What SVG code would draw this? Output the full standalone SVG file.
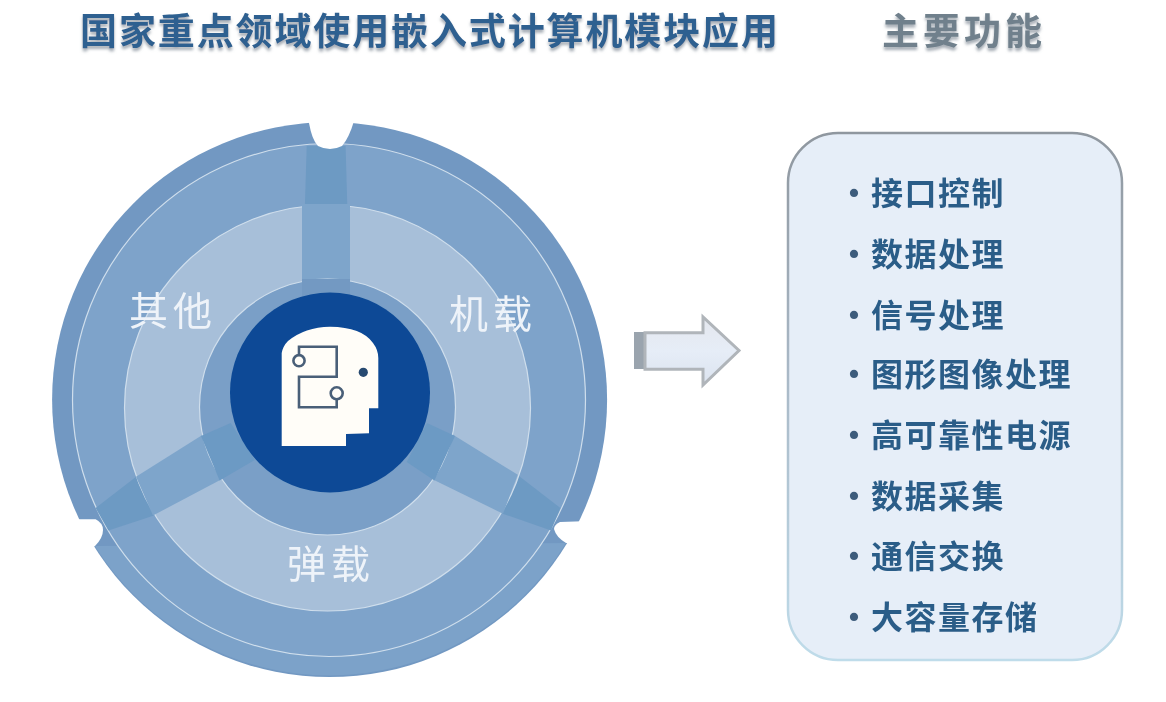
<svg xmlns="http://www.w3.org/2000/svg" width="1166" height="702" viewBox="0 0 1166 702">
<style>
text{font-family:"Noto Sans CJK SC","Noto Sans CJK TC",sans-serif}
.seg{font-size:39px;fill:#eef3f9;letter-spacing:5px;filter:url(#soft)}
.item{font-size:32px;font-weight:700;fill:#2c5d88;letter-spacing:1.5px;filter:url(#soft)}
.bul{fill:#3d5c7c}
.title{font-size:37px;font-weight:700;filter:url(#shadow)}
.thin{stroke:#cfdeec;stroke-width:1.2}
</style>
<defs>
<filter id="soft" x="-5%" y="-5%" width="110%" height="110%"><feGaussianBlur stdDeviation="0.6"/></filter>
<filter id="shadow" x="-5%" y="-20%" width="110%" height="150%">
<feGaussianBlur in="SourceAlpha" stdDeviation="1.6" result="b"/>
<feOffset in="b" dy="3" result="o"/>
<feFlood flood-color="#8f98a2" flood-opacity="0.8"/>
<feComposite in2="o" operator="in" result="s"/>
<feGaussianBlur in="SourceGraphic" stdDeviation="0.6" result="g"/>
<feMerge><feMergeNode in="s"/><feMergeNode in="g"/></feMerge>
</filter>
<linearGradient id="panelStroke" x1="0" y1="0" x2="0" y2="1">
<stop offset="0" stop-color="#8f979f"/><stop offset="0.45" stop-color="#a9b8c6"/><stop offset="1" stop-color="#bfdcea"/>
</linearGradient>
<linearGradient id="arrowFill" x1="0" y1="0" x2="0" y2="1">
<stop offset="0" stop-color="#e4e7ee"/><stop offset="0.5" stop-color="#e6edf7"/><stop offset="1" stop-color="#dbe3ef"/>
</linearGradient>
</defs>
<rect width="1166" height="702" fill="#ffffff"/>

<g id="title-left"><text class="title" x="80" y="45" fill="#2f6090" textLength="698" lengthAdjust="spacing">国家重点领域使用嵌入式计算机模块应用</text></g>
<g id="title-right"><text class="title" x="882" y="45" fill="#6f808c" textLength="160" lengthAdjust="spacing">主要功能</text></g>

<g id="wheel" filter="url(#soft)">
<circle cx="329.6" cy="399.6" r="277.5" fill="#7298c2"/>
<path d="M94.8,546 A277.5,277.5 0 0 0 566,543 Z" fill="#7ba2c9"/>
<circle class="thin" cx="329" cy="400" r="256.5" fill="#7ea3ca"/>
<g id="spokes-outer" fill="#6d9ac3">
<polygon points="306.7,146 345.6,146 350,300 302,300"/>
<polygon points="95.6,508 108.5,530.5 198,501 176,446"/>
<polygon points="560.4,508 551,530.5 455,497 475,442"/>
</g>
<path d="M308.5,115 L309,123 Q312,140 318,146 Q330,152 342,146 Q349,138 354,121 L354,115 Z" fill="#ffffff"/>
<path d="M70,519.3 L95.6,519.3 Q103,523 103,530 Q103,538 94.8,546.3 L70,546.3 Z" fill="#ffffff"/>
<path d="M590,521 L560,522 Q554,525 554,529 Q556,537 566,543 L590,543 Z" fill="#ffffff"/>
<circle class="thin" cx="327.5" cy="408" r="203" fill="#a7bfd9"/>
<g id="spokes-light" fill="#7ea5cb">
<polygon points="302,204 350,204 350,300 302,300"/>
<polygon points="136,476.7 153,515.5 260,459 250,405"/>
<polygon points="517.8,474.8 503,513.7 395,461 405,405"/>
</g>
<circle class="thin" cx="327.5" cy="407" r="128" fill="#7a9fc7"/>
<g id="spokes-mid">
<polygon points="302,279 350,279 350,300 302,300" fill="#7399c2"/>
<polygon points="201,436 230.7,423 254.8,460 219.6,480.4" fill="#6c9ac4"/>
<polygon points="455,436 427,423 406.7,462 434.4,480.4" fill="#6c9ac4"/>
</g>
<circle cx="330" cy="392.5" r="100" fill="#0c4a96"/>
</g>

<g id="head" filter="url(#soft)">
<path d="M281.7,446 L281.7,353 Q283,346 288,341 Q305,327 330,326.7 Q362,327 373,343 Q378.3,350 378.3,358 L378.3,408.3 L369,408.3 L369,433.3 L346,434 L346,446 Z" fill="#fffdf8"/>
<path d="M299,355 V346.7 H336.7 V376.7 H299 V407.3 H336.7 V399" fill="none" stroke="#4a5f78" stroke-width="2.6"/>
<circle cx="299" cy="360.7" r="5.6" fill="#fffdf8" stroke="#4a5f78" stroke-width="2.6"/>
<circle cx="336.7" cy="393.3" r="6" fill="#fffdf8" stroke="#4a5f78" stroke-width="2.6"/>
<circle cx="363.3" cy="372.3" r="4.6" fill="#27486f"/>
</g>

<g id="label-qita"><text class="seg" x="129" y="325">其他</text></g>
<g id="label-jizai"><text class="seg" x="449" y="328">机载</text></g>
<g id="label-danzai"><text class="seg" x="287" y="578">弹载</text></g>

<g id="connectors" filter="url(#soft)">
<rect x="634" y="332" width="11" height="37" fill="#9aa4ae"/>
<polygon points="645,332.7 703,332.7 703,317 739,350.5 703,385 703,369.3 645,369.3" fill="url(#arrowFill)" stroke="#b0b5ba" stroke-width="3"/>
</g>

<g id="panel">
<rect x="788" y="133" width="334" height="527" rx="50" ry="50" fill="#e6eef8" stroke="url(#panelStroke)" stroke-width="2.5" filter="url(#soft)"/>
<g font-size="32">
<text class="item" y="205"><tspan class="bul" x="838">•</tspan><tspan x="871">接口控制</tspan></text>
<text class="item" y="266"><tspan class="bul" x="838">•</tspan><tspan x="871">数据处理</tspan></text>
<text class="item" y="327"><tspan class="bul" x="838">•</tspan><tspan x="871">信号处理</tspan></text>
<text class="item" y="386"><tspan class="bul" x="838">•</tspan><tspan x="871">图形图像处理</tspan></text>
<text class="item" y="447"><tspan class="bul" x="838">•</tspan><tspan x="871">高可靠性电源</tspan></text>
<text class="item" y="508"><tspan class="bul" x="838">•</tspan><tspan x="871">数据采集</tspan></text>
<text class="item" y="568"><tspan class="bul" x="838">•</tspan><tspan x="871">通信交换</tspan></text>
<text class="item" y="629"><tspan class="bul" x="838">•</tspan><tspan x="871">大容量存储</tspan></text>
</g>
</g>
</svg>
